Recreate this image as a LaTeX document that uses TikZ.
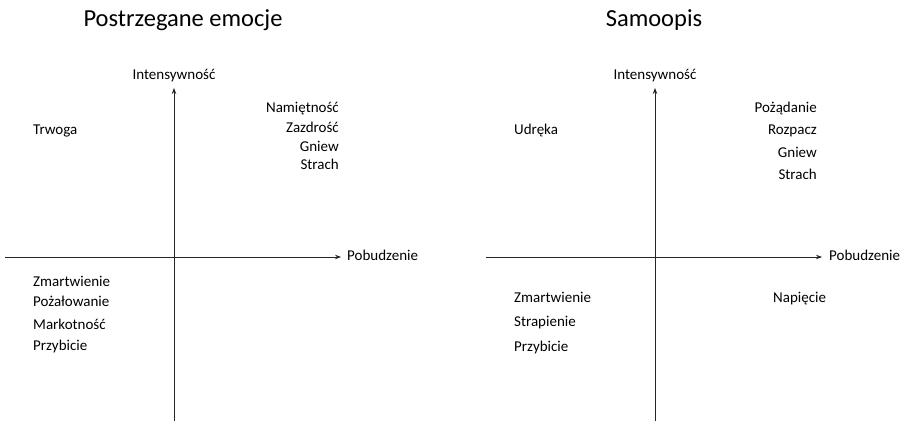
\documentclass[tikz,border=0pt]{standalone}
\usepackage{fontspec}
\setmainfont{Carlito}
\usetikzlibrary{arrows.meta}
\begin{document}
\begin{tikzpicture}[x=1pt,y=1pt,
	axis/.style={draw=black!85, line width=.8pt, -{Stealth[length=6pt,width=4.5pt]}},
	lbl/.style={font=\fontsize{15}{18}\selectfont, inner sep=0pt},
	ttl/.style={font=\fontsize{24.5}{29}\selectfont, inner sep=0pt}]
	\useasboundingbox (0,0) rectangle (904,423);

	% left panel
	\coordinate (lbot) at (174,2);
	\coordinate (ltop) at (174,335);
	\coordinate (lleft) at (5,166);
	\coordinate (lright) at (341,166);
	\draw [axis] (lbot) -- (ltop);
	\draw [axis] (lleft) -- (lright);
	\node [ttl, anchor=base] (ltitle) at (183,396) {Postrzegane emocje};
	\node [lbl, anchor=base] (lint) at (174,343) {Intensywność};
	\node [lbl, anchor=base west] (lpob) at (347,162) {Pobudzenie};
	\node [lbl, anchor=base west] (ltrw) at (33,288) {Trwoga};
	\node [lbl, anchor=base east] (lnam) at (339,310) {Namiętność};
	\node [lbl, anchor=base east] (lzaz) at (339,290) {Zazdrość};
	\node [lbl, anchor=base east] (lgni) at (339,271) {Gniew};
	\node [lbl, anchor=base east] (lstr) at (339,253) {Strach};
	\node [lbl, anchor=base west] (lzma) at (33,136) {Zmartwienie};
	\node [lbl, anchor=base west] (lpoz) at (33,116) {Pożałowanie};
	\node [lbl, anchor=base west] (lmar) at (33,94) {Markotność};
	\node [lbl, anchor=base west] (lprz) at (33,73) {Przybicie};

	% right panel
	\coordinate (rbot) at (655,2);
	\coordinate (rtop) at (655,335);
	\coordinate (rleft) at (486,166);
	\coordinate (rright) at (822,166);
	\draw [axis] (rbot) -- (rtop);
	\draw [axis] (rleft) -- (rright);
	\node [ttl, anchor=base] (rtitle) at (654,396) {Samoopis};
	\node [lbl, anchor=base] (rint) at (655,343) {Intensywność};
	\node [lbl, anchor=base west] (rpob) at (829,162) {Pobudzenie};
	\node [lbl, anchor=base west] (rudr) at (514,288) {Udręka};
	\node [lbl, anchor=base east] (rpoz) at (817,310) {Pożądanie};
	\node [lbl, anchor=base east] (rroz) at (817,288) {Rozpacz};
	\node [lbl, anchor=base east] (rgni) at (817,265) {Gniew};
	\node [lbl, anchor=base east] (rstr) at (817,243) {Strach};
	\node [lbl, anchor=base west] (rzma) at (514,120) {Zmartwienie};
	\node [lbl, anchor=base west] (rstp) at (514,96) {Strapienie};
	\node [lbl, anchor=base west] (rprz) at (514,72) {Przybicie};
	\node [lbl, anchor=base west] (rnap) at (773,120) {Napięcie};
\end{tikzpicture}
\end{document}
